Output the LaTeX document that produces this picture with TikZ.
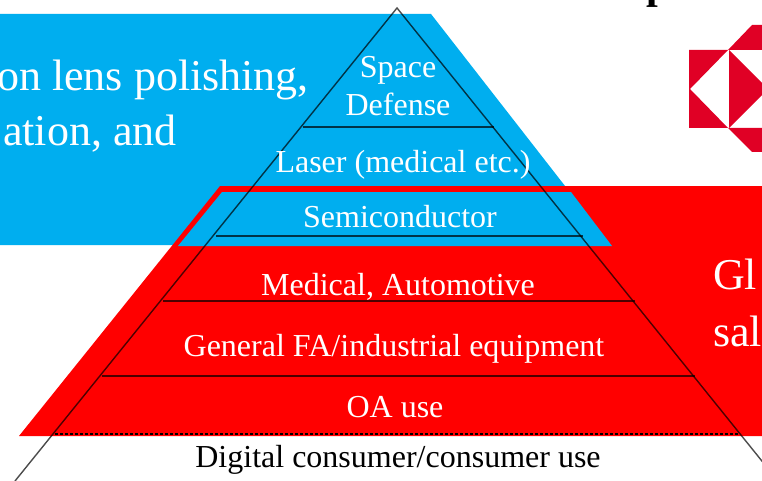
\documentclass[tikz,border=0pt]{standalone}
\usepackage{fontspec}
\setmainfont{Liberation Serif}
\definecolor{skyb}{HTML}{00AEEF}
\definecolor{redb}{HTML}{FF0000}
\definecolor{logor}{HTML}{E00025}
\tikzset{
  tier/.style={text=white,font=\fontsize{32}{36}\selectfont,inner sep=0pt,anchor=base,align=center},
  big/.style={text=white,font=\fontsize{44}{50}\selectfont,inner sep=0pt,anchor=base west},
  rule/.style={draw=black,line width=1.4pt,opacity=.7},
}
\begin{document}
\begin{tikzpicture}[x=1pt,y=-1pt]
\useasboundingbox (0,0) rectangle (762,481);
\fill[white] (0,0) rectangle (762,481);
% blue band
\fill[skyb] (0,14) -- (431,14) -- (611,245) -- (0,245) -- cycle;
% red band
\fill[redb] (220,186) -- (762,186) -- (762,436) -- (19,436) -- cycle;
\fill[skyb] (222,192) -- (571,192) -- (612,246) -- (178,246) -- cycle;
% logo
\fill[logor] (689,50) -- (728,50) -- (690,89) -- (728,128) -- (689,128) -- cycle;
\fill[logor] (729,50) -- (768,89) -- (729,128) -- cycle;
\fill[logor] (728,50) -- (752,25) -- (762,25) -- (762,50) -- cycle;
\fill[logor] (728,128) -- (752,152) -- (762,152) -- (762,128) -- cycle;
% pyramid
\coordinate (apex) at (397,8);
\coordinate (bl) at (15,481);
\coordinate (br) at (778,481);
\draw[rule] (bl) -- (apex) -- (br);
\coordinate (a1) at (303,127); \coordinate (a2) at (494,127);
\coordinate (b1) at (216,236); \coordinate (b2) at (583,236);
\coordinate (c1) at (163,301); \coordinate (c2) at (635,301);
\coordinate (d1) at (102,376); \coordinate (d2) at (695,376);
\coordinate (e1) at (55,434); \coordinate (e2) at (740,434);
\draw[rule] (a1) -- (a2);
\draw[rule] (b1) -- (b2);
\draw[rule] (c1) -- (c2);
\draw[rule] (d1) -- (d2);
\draw[draw=black,line width=1.4pt,dash pattern=on 3pt off 2pt] (e1) -- (e2);
% tier labels
\node[tier] (t1) at (398,78) {Space};
\node[tier] (t1b) at (398,116) {Defense};
\node[tier] (t2) at (403,172) {Laser (medical etc.)};
\node[tier] (t3) at (400,227) {Semiconductor};
\node[tier] (t4) at (398,295) {Medical, Automotive};
\node[tier] (t5) at (394,356) {General FA/industrial equipment};
\node[tier] (t6) at (395,417) {OA use};
\node[tier,text=black] (t7) at (398,467) {Digital consumer/consumer use};
% side text
\node[big] (l1) at (-3,91) {on lens polishing,};
\node[big] (l2) at (3,146) {ation, and};
\node[big] (r1) at (713,289) {Gl};
\node[big] (r2) at (713,346) {sal};
\node[text=black,font=\bfseries\fontsize{42}{50}\selectfont,inner sep=0pt,anchor=base west] (p) at (646,-1.5) {p};
\end{tikzpicture}
\end{document}
